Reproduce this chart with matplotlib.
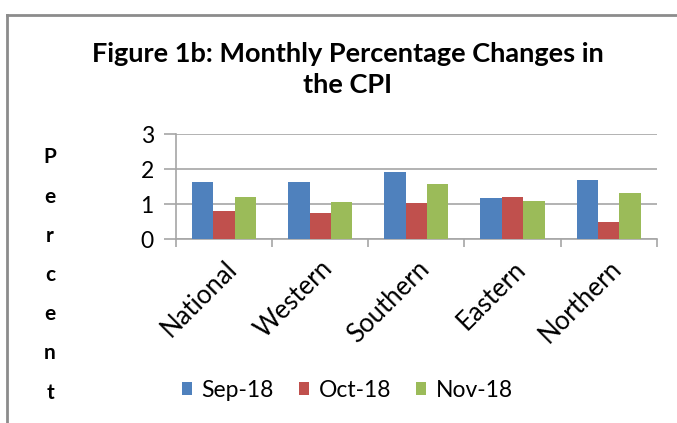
import numpy as np
import matplotlib
matplotlib.use('Agg')
import matplotlib.pyplot as plt
from matplotlib.lines import Line2D

plt.rcParams['font.family'] = ['Lato', 'DejaVu Sans']

# Data
regions = ['National', 'Western', 'Southern', 'Eastern', 'Northern']
sep_18 = [1.64, 1.64, 1.93, 1.17, 1.69]
oct_18 = [0.80, 0.76, 1.03, 1.22, 0.48]
nov_18 = [1.21, 1.07, 1.58, 1.10, 1.32]
series = {'Sep-18': sep_18, 'Oct-18': oct_18, 'Nov-18': nov_18}
colors = ['#4F81BD', '#C0504D', '#9BBB59']
y_ticks = [0, 1, 2, 3]

fig = plt.figure(figsize=(6.77, 4.23), dpi=100)
ax = fig.add_axes([0.26, 0.4343, 0.71, 0.2482])

x = np.arange(len(regions))
width = 1 / 4.5
for i, (name, vals) in enumerate(series.items()):
    ax.bar(x + (i - 1) * width, vals, width, color=colors[i], label=name, zorder=3)

ax.set_xlim(-0.5, len(regions) - 0.5)
ax.set_ylim(0, 3)
ax.set_yticks(y_ticks)
ax.yaxis.grid(True, color='#A6A6A6', linewidth=1.2, zorder=0)
ax.tick_params(axis='y', length=9, color='#A6A6A6', labelsize=16.5, pad=7, width=1.2)

# category boundaries carry the tick marks, labels sit in the middle
ax.set_xticks(np.arange(len(regions) + 1) - 0.5)
ax.set_xticklabels([])
ax.set_xticks(x, minor=True)
ax.set_xticklabels(regions, minor=True, rotation=45, ha='right',
                   rotation_mode='anchor', fontsize=18.5)
ax.tick_params(axis='x', which='major', length=6, color='#A6A6A6', width=1.2)
ax.tick_params(axis='x', which='minor', length=0, pad=12)

for s in ['top', 'right']:
    ax.spines[s].set_visible(False)
for s in ['left', 'bottom']:
    ax.spines[s].set_color('#A6A6A6')
    ax.spines[s].set_linewidth(1.2)

fig.text(0.514, 0.836, 'Figure 1b: Monthly Percentage Changes in\nthe CPI',
         ha='center', va='center', fontsize=19.5, fontweight='bold',
         linespacing=1.35)

fig.text(0.074, 0.35, '\n'.join('Percent'), ha='center', va='center',
         fontsize=15, fontweight='bold', linespacing=2.2)

fig.legend(loc='center', bbox_to_anchor=(0.513, 0.078), ncol=3,
           frameon=False, fontsize=16.5, handlelength=0.45, handleheight=0.45,
           handletextpad=0.4, columnspacing=1.1)

# outer frame (left and top edges)
fig.add_artist(Line2D([0.0105, 0.0105], [0.0, 0.965], transform=fig.transFigure,
                      color='#8C8C8C', linewidth=2))
fig.add_artist(Line2D([0.0105, 1.0], [0.965, 0.965], transform=fig.transFigure,
                      color='#8C8C8C', linewidth=2))

fig.savefig('out.png', dpi=100)
